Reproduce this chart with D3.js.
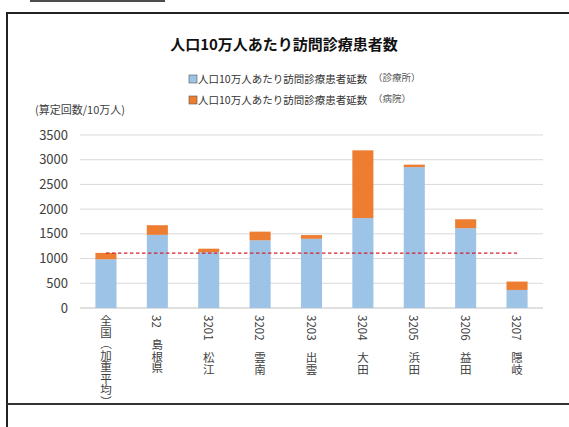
<!DOCTYPE html>
<html>
<head>
<meta charset="utf-8">
<script src="https://cdn.jsdelivr.net/npm/d3@7.9.0/dist/d3.min.js"></script>
<style>
  html, body { margin: 0; padding: 0; background: #fff; }
  svg { display: block; font-family: "Noto Sans CJK JP", "Noto Sans", sans-serif; }
</style>
</head>
<body>
<svg id="chart" width="569" height="427"></svg>
<script>
const categories = ['全国（加重平均）', '32　島根県', '3201　松江', '3202　雲南', '3203　出雲', '3204　大田', '3205　浜田', '3206　益田', '3207　隠岐'];
const clinicValues = [985, 1480, 1130, 1370, 1400, 1820, 2850, 1615, 365];
const hospitalValues = [130, 195, 70, 175, 75, 1370, 50, 180, 170];
const nationalAverage = 1110;
const yTicks = [0, 500, 1000, 1500, 2000, 2500, 3000, 3500];
const seriesNames = ['人口10万人あたり訪問診療患者延数', '人口10万人あたり訪問診療患者延数'];
const seriesNotes = ['（診療所）', '（病院）'];
const colors = ['#9dc3e6', '#ed7d31'];

const svg = d3.select('#chart');

// frame lines around the chart area
svg.append('line').attr('x1', 30).attr('x2', 165).attr('y1', 1).attr('y2', 1)
  .attr('stroke', '#111').attr('stroke-width', 1.5);
svg.append('path')
  .attr('d', 'M7,427 V13 H569')
  .attr('fill', 'none').attr('stroke', '#222').attr('stroke-width', 2);
svg.append('line').attr('x1', 7).attr('x2', 569).attr('y1', 404).attr('y2', 404)
  .attr('stroke', '#333').attr('stroke-width', 2);

const x = d3.scaleBand().domain(categories).range([80, 543]).paddingInner(0.59).paddingOuter(0.3);
const y = d3.scaleLinear().domain([0, 3500]).range([308, 135]);

// gridlines
svg.append('g').selectAll('line').data(yTicks).join('line')
  .attr('x1', 80).attr('x2', 543)
  .attr('y1', d => y(d)).attr('y2', d => y(d))
  .attr('stroke', d => d === 0 ? '#bfbfbf' : '#d9d9d9').attr('stroke-width', 1);

svg.append('g').selectAll('text').data(yTicks).join('text')
  .attr('x', 68).attr('y', d => y(d) + 4.5)
  .attr('text-anchor', 'end').attr('font-size', 13).attr('fill', '#404040')
  .text(d => d);

// stacked bars
const rows = categories.map((c, i) => ({ cat: c, clinic: clinicValues[i], hospital: hospitalValues[i] }));
const stack = d3.stack().keys(['clinic', 'hospital'])(rows);
svg.append('g').selectAll('g').data(stack).join('g')
  .attr('fill', (_, i) => colors[i])
  .selectAll('rect').data(d => d).join('rect')
  .attr('x', d => x(d.data.cat))
  .attr('width', x.bandwidth())
  .attr('y', d => y(d[1]))
  .attr('height', d => y(d[0]) - y(d[1]));

// national average dashed line
const first = categories[0], last = categories[categories.length - 1];
svg.append('line')
  .attr('x1', x(first) + x.bandwidth() / 2).attr('x2', x(last) + x.bandwidth() / 2)
  .attr('y1', y(nationalAverage)).attr('y2', y(nationalAverage))
  .attr('stroke', '#d4202c').attr('stroke-width', 1.3).attr('stroke-dasharray', '3.5,2.5');

// vertical category labels
svg.append('g').selectAll('text').data(categories).join('text')
  .attr('x', d => x(d) + x.bandwidth() / 2)
  .attr('y', 315)
  .attr('font-size', 11.5).attr('fill', '#404040')
  .style('writing-mode', 'vertical-rl')
  .text(d => d);

// title
svg.append('text').attr('x', 284).attr('y', 50).attr('text-anchor', 'middle')
  .attr('font-size', 15).attr('font-weight', 'bold').attr('fill', '#111')
  .text('人口10万人あたり訪問診療患者数');

// legend
const legend = svg.append('g');
seriesNames.forEach((name, i) => {
  const ly = 79 + i * 21;
  legend.append('rect').attr('x', 189).attr('y', ly - 4).attr('width', 8).attr('height', 8)
    .attr('fill', colors[i]).attr('stroke', '#555').attr('stroke-width', 0.6);
  legend.append('text').attr('x', 198).attr('y', ly + 4).attr('font-size', 10.5).attr('fill', '#333')
    .text(name);
  legend.append('text').attr('x', 373).attr('y', ly + 2).attr('font-size', 9.5).attr('fill', '#555')
    .text(seriesNotes[i]);
});

// y axis title
svg.append('text').attr('x', 35).attr('y', 114).attr('font-size', 11).attr('fill', '#404040')
  .text('(算定回数/10万人)');
</script>
</body>
</html>
